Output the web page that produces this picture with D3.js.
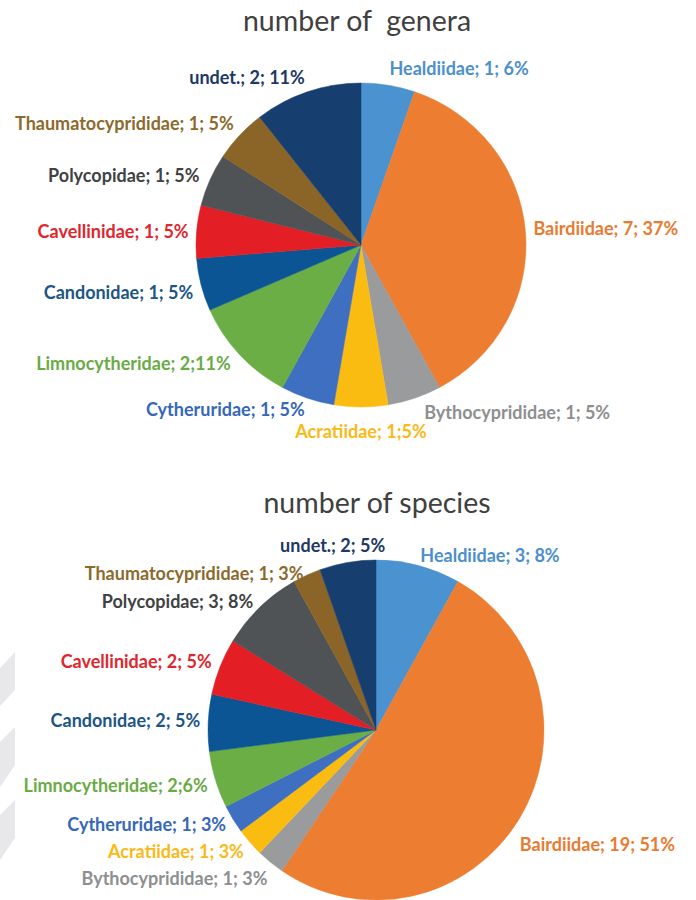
<!DOCTYPE html>
<html><head><meta charset="utf-8">
<script src="https://cdn.jsdelivr.net/npm/d3@7"></script>
<style>body{margin:0;background:#fff} svg{display:block}</style>
</head><body><svg id="c" width="696" height="900"></svg>
<script>
// ---- data ----
const families = ["Healdiidae","Bairdiidae","Bythocyprididae","Acratiidae","Cytheruridae","Limnocytheridae","Candonidae","Cavellinidae","Polycopidae","Thaumatocyprididae","undet."];
const generaValues  = [1, 7, 1, 1, 1, 2, 1, 1, 1, 1, 2];
const speciesValues = [3, 19, 1, 1, 1, 2, 2, 2, 3, 1, 2];
const generaLabels  = ["Healdiidae; 1; 6%","Bairdiidae; 7; 37%","Bythocyprididae; 1; 5%","Acratiidae; 1;5%","Cytheruridae; 1; 5%","Limnocytheridae; 2;11%","Candonidae; 1; 5%","Cavellinidae; 1; 5%","Polycopidae; 1; 5%","Thaumatocyprididae; 1; 5%","undet.; 2; 11%"];
const speciesLabels = ["Healdiidae; 3; 8%","Bairdiidae; 19; 51%","Bythocyprididae; 1; 3%","Acratiidae; 1; 3%","Cytheruridae; 1; 3%","Limnocytheridae; 2;6%","Candonidae; 2; 5%","Cavellinidae; 2; 5%","Polycopidae; 3; 8%","Thaumatocyprididae; 1; 3%","undet.; 2; 5%"];
const chartTitles = ["number of  genera", "number of species"];

// ---- styles ----
const sliceColors = ["#4a92d0","#ed7d31","#9a9b9c","#fbbc12","#3f6fc0","#6aae45","#0b5595","#e31e25","#505356","#8b6427","#163f70"];
const labelColors = ["#4d8fcc","#e97b31","#8e8f90","#fbb915","#3667b8","#6aab46","#1d5585","#e0262d","#404244","#8b6a2c","#203864"];

// ---- layout ----
const layouts = [
  {cx:361, cy:245, rx:165, ry:162, tx:357, ty:31,
   nudge:[[0,0],[0,0],[7,1],[0,10],[0,-2],[-3,0],[0,5],[0,3],[-3,3],[0,0],[0,2]]},
  {cx:376, cy:730, rx:168, ry:170, tx:377, ty:513,
   nudge:[[0,7],[-6,19],[2,6],[0,0],[0,-1],[0,3],[0,0],[-1,2],[-1,7],[0,14],[39,0]]}
];
const datasets = [
  {values: generaValues, labels: generaLabels, title: chartTitles[0]},
  {values: speciesValues, labels: speciesLabels, title: chartTitles[1]}
];

const svg = d3.select("#c");

// faint watermark fragments at the left edge
const wm = [[0,668,15,652,15,690,0,706],[0,742,15,727,15,765,0,787],[0,815,15,800,15,838,0,860]];
svg.append("g").selectAll("polygon").data(wm).join("polygon")
  .attr("points", d => `${d[0]},${d[1]} ${d[2]},${d[3]} ${d[4]},${d[5]} ${d[6]},${d[7]}`)
  .attr("fill", "#e8e8ea");

const pie = d3.pie().sort(null).value(d => d);

datasets.forEach((ds, k) => {
  const L = layouts[k];
  const arcs = pie(ds.values);
  const arc = d3.arc().innerRadius(0).outerRadius(L.rx);

  svg.append("text")
    .attr("x", L.tx).attr("y", L.ty)
    .attr("text-anchor", "middle")
    .style("white-space", "pre")
    .attr("font-family", "Lato, 'Open Sans', sans-serif")
    .attr("font-size", 28.5)
    .attr("fill", "#404040")
    .text(ds.title);

  svg.append("g")
    .attr("transform", `translate(${L.cx},${L.cy}) scale(1,${L.ry / L.rx})`)
    .selectAll("path").data(arcs).join("path")
    .attr("d", arc)
    .attr("fill", (d, i) => sliceColors[i])
    .attr("stroke", (d, i) => sliceColors[i])
    .attr("stroke-width", 0.5);

  const gap = 8;
  svg.append("g").selectAll("text").data(arcs).join("text")
    .each(function(d, i) {
      const a = (d.startAngle + d.endAngle) / 2;
      const s = Math.sin(a), c = Math.cos(a);
      const px = L.cx + (L.rx + gap) * s;
      const py = L.cy - (L.ry + gap) * c;
      const anchor = Math.abs(s) < 0.02 ? "middle" : (s > 0 ? "start" : "end");
      d3.select(this)
        .attr("x", px + L.nudge[i][0])
        .attr("y", py + 5 - 7.5 * c + L.nudge[i][1])
        .attr("text-anchor", anchor);
    })
    .style("white-space", "pre")
    .attr("font-family", "Lato, 'Open Sans', sans-serif")
    .attr("font-weight", "bold")
    .attr("font-size", 18)
    .attr("fill", (d, i) => labelColors[i])
    .text((d, i) => ds.labels[i]);
});
</script></body></html>
